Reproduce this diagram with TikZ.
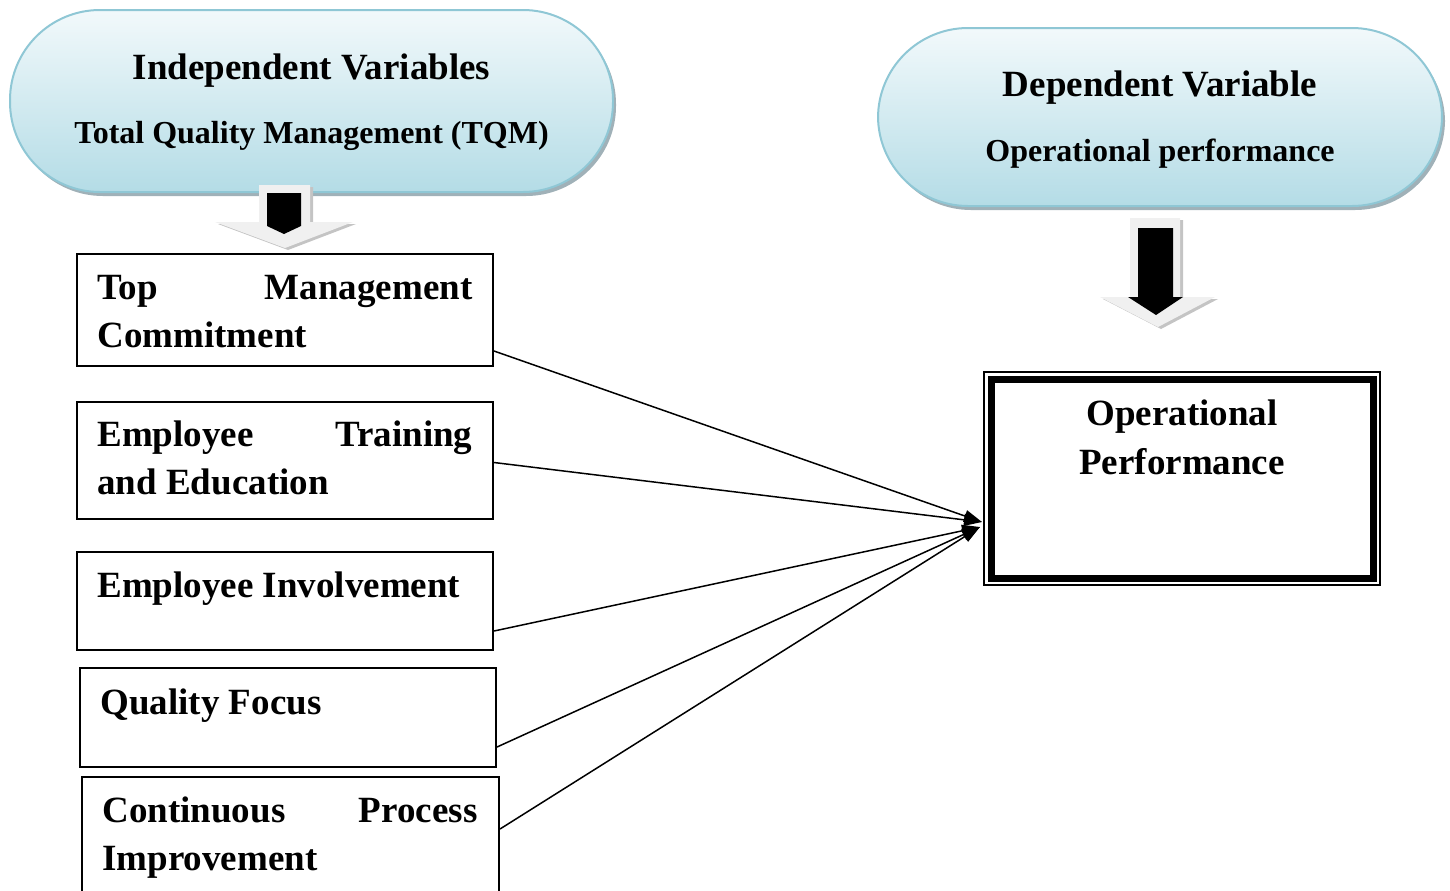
\documentclass[tikz,border=0pt]{standalone}
\usepackage{fontspec}
\setmainfont{Liberation Serif}
\usetikzlibrary{arrows.meta,calc,fit,shadows}
\definecolor{ovalline}{HTML}{8FC7D5}
\definecolor{ovaltop}{HTML}{F2F9FB}
\definecolor{ovalbot}{HTML}{B4DCE6}
\definecolor{ovalshadow}{HTML}{8FA3AB}
\definecolor{arrowpale}{HTML}{F0F0F0}
\definecolor{arrowshade}{HTML}{C4C4C4}
\begin{document}
\begin{tikzpicture}[x=0.5pt,y=-0.5pt,
  oval/.style={draw=ovalline, line width=1pt, rounded corners=45pt,
    top color=ovaltop, bottom color=ovalbot, inner sep=0pt,
    drop shadow={shadow xshift=1.5pt, shadow yshift=-2pt, fill=ovalshadow, opacity=0.85}},
  headA/.style={font=\fontsize{18.5}{22}\selectfont\bfseries, inner sep=0pt, anchor=base},
  headB/.style={font=\fontsize{16}{20}\selectfont\bfseries, inner sep=0pt, anchor=base},
  box/.style={draw, line width=1pt, inner sep=0pt},
  boxtext/.style={font=\fontsize{18.5}{24}\selectfont\bfseries, inner sep=0pt, anchor=base west},
  link/.style={line width=0.75pt, -{Triangle[length=9pt,width=6pt]}},
  pale/.style={fill=arrowpale, draw=none},
  shade/.style={fill=arrowshade, draw=none},
  solid/.style={fill=black, draw=none}]

\useasboundingbox (0,0) rectangle (1450,890);
\clip (0,0) rectangle (1450,890);

% header ovals
\node[oval, fit={(10,10) (613,192)}] (ovalL) {};
\node[headA] (ovalL1) at ($(ovalL.north)+(0,70)$) {Independent Variables};
\node[headB] (ovalL2) at ($(ovalL.north)+(0,134)$) {Total Quality Management (TQM)};

\node[oval, fit={(878,28) (1442,206)}] (ovalR) {};
\node[headA] (ovalR1) at ($(ovalR.north)+(0,69)$) {Dependent Variable};
\node[headB] (ovalR2) at ($(ovalR.north)+(0,134)$) {Operational performance};

% block arrow under the left oval
\fill[shade] (262,187) -- (313,187) -- (313,224) -- (356,224) -- (288,250) -- (218,224) -- (262,224) -- cycle;
\fill[pale] (259,185) -- (310,185) -- (310,222) -- (353,222) -- (285,248) -- (215,222) -- (259,222) -- cycle;
\fill[solid] (267,193) -- (301,193) -- (301,226) -- (284,234) -- (267,226) -- cycle;

% block arrow under the right oval
\fill[shade] (1133,220) -- (1183,220) -- (1183,299) -- (1218,299) -- (1161,329) -- (1103,299) -- (1133,299) -- cycle;
\fill[pale] (1130,218) -- (1180,218) -- (1180,297) -- (1215,297) -- (1158,327) -- (1100,297) -- (1130,297) -- cycle;
\fill[solid] (1138,228) -- (1173,228) -- (1173,297) -- (1183,297) -- (1156,315) -- (1128,297) -- (1138,297) -- cycle;

% TQM factor boxes
\node[box, fit={(77,254) (493,366)}] (b1) {};
\node[boxtext] (t1) at ($(b1.north west)+(21,46)$)
  {\parbox[t]{187.5pt}{\makebox[\linewidth][s]{Top Management}\\Commitment}};

\node[box, fit={(77,402) (493,519)}] (b2) {};
\node[boxtext] (t2) at ($(b2.north west)+(21,45)$)
  {\parbox[t]{187.5pt}{\makebox[\linewidth][s]{Employee Training}\\and Education}};

\node[box, fit={(77,552) (493,650)}] (b3) {};
\node[boxtext] (t3) at ($(b3.north west)+(21,46)$) {Employee Involvement};

\node[box, fit={(80,668) (496,767)}] (b4) {};
\node[boxtext] (t4) at ($(b4.north west)+(21,47)$) {Quality Focus};

\node[box, fit={(82,777) (499,905)}] (b5) {};
\node[boxtext] (t5) at ($(b5.north west)+(21,46)$)
  {\parbox[t]{187.5pt}{\makebox[\linewidth][s]{Continuous Process}\\Improvement}};

% outcome box with its double frame
\node[draw, line width=0.6pt, inner sep=0pt, fit={(984,372) (1380,585)}] (op) {};
\node[draw, line width=3.5pt, inner sep=0pt, fit={(991,379) (1373,578)}] (opframe) {};
\node[headA] (op1) at ($(op.north)+(0,54)$) {Operational};
\node[headA] (op2) at ($(op.north)+(0,103)$) {Performance};

% arrow tips on the outcome box
\coordinate (tipA) at (982,522);
\coordinate (tipB) at (980,527);

\draw[link] ($(b1.south east)+(0,-16)$) -- (tipA);
\draw[link] ($(b2.east)+(0,2)$) -- (tipA);
\draw[link] ($(b3.south east)+(0,-20)$) -- (tipB);
\draw[link] ($(b4.south east)+(0,-21)$) -- (tipB);
\draw[link] ($(b5.north east)+(0,53)$) -- (tipB);

\end{tikzpicture}
\end{document}
